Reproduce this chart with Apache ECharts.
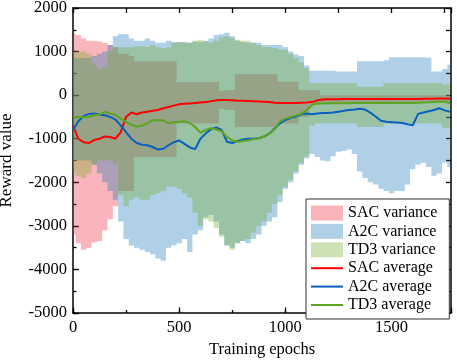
<!DOCTYPE html>
<html><head><meta charset="utf-8">
<script src="https://cdn.jsdelivr.net/npm/echarts@6/dist/echarts.min.js"></script>
<style>html,body{margin:0;padding:0;background:#fff}#c{width:457px;height:361px}</style>
</head><body><div id="c"></div>
<script>
const epochs = [0,25,50,75,100,125,150,175,200,225,250,275,
 300,325,350,375,400,425,450,475,500,525,550,575,
 600,625,650,675,700,725,750,775,800,825,850,875,
 900,925,950,975,1000,1025,1050,1075,1100,1125,1150,1175,
 1200,1225,1250,1275,1300,1325,1350,1375,1400,1425,1450,1475,
 1500,1525,1550,1575,1600,1625,1650,1675,1700,1725,1750,1775];

const sacMean = [-700,-1000,-1080,-1100,-1030,-1000,-950,-960,-1000,-850,-500,-400,
 -440,-400,-380,-360,-340,-300,-270,-240,-210,-200,-190,-180,
 -170,-160,-140,-120,-110,-110,-120,-130,-130,-135,-140,-145,
 -150,-160,-175,-180,-180,-180,-180,-175,-170,-160,-120,-100,
 -95,-92,-92,-90,-90,-90,-90,-90,-88,-88,-88,-88,
 -88,-88,-86,-86,-86,-86,-85,-85,-80,-75,-75,-80];

const a2cMean = [-800,-600,-480,-430,-420,-450,-460,-500,-560,-700,-850,-1000,
 -1100,-1140,-1150,-1190,-1250,-1230,-1150,-1080,-1040,-1120,-1200,-1240,
 -1000,-880,-780,-740,-800,-1070,-1100,-1050,-1020,-1000,-1000,-990,
 -950,-880,-760,-650,-570,-520,-490,-440,-420,-440,-420,-410,
 -410,-400,-380,-360,-340,-330,-310,-330,-400,-490,-590,-610,
 -620,-630,-640,-670,-690,-430,-400,-370,-340,-300,-350,-380];

const td3Mean = [-500,-500,-510,-500,-460,-450,-380,-420,-450,-540,-620,-680,
 -720,-700,-640,-580,-570,-580,-640,-620,-610,-600,-640,-730,
 -860,-800,-760,-790,-830,-960,-1040,-1070,-1050,-1040,-1010,-990,
 -950,-880,-780,-600,-540,-500,-470,-430,-340,-230,-185,-190,
 -185,-185,-185,-185,-185,-180,-180,-180,-180,-180,-175,-180,
 -180,-180,-180,-180,-180,-175,-170,-165,-155,-150,-150,-180];

const sacUpper = [1420,1380,1300,1250,1250,1230,1200,1150,1100,950,950,900,
 780,780,780,780,780,780,780,780,300,300,300,300,
 300,300,300,300,100,120,120,480,480,480,480,480,
 480,480,480,310,310,310,310,120,120,120,120,0,
 0,0,0,0,0,0,0,0,0,0,0,0,
 0,0,0,0,0,0,0,0,0,0,0,0];
const sacLower = [-3200,-3400,-3550,-3500,-3380,-3350,-3100,-2850,-2550,-2200,-2200,-2200,
 -1420,-1420,-1420,-1420,-1420,-1420,-1420,-1420,-650,-650,-650,-650,
 -650,-650,-650,-650,-320,-340,-340,-730,-730,-730,-730,-730,
 -730,-730,-730,-650,-650,-650,-650,-500,-500,-220,-220,-170,
 -170,-170,-170,-170,-170,-170,-170,-170,-170,-170,-170,-170,
 -170,-170,-170,-170,-170,-170,-170,-170,-170,-170,-170,-170];

const a2cUpper = [850,850,850,850,900,950,1000,1150,1350,1400,1400,1300,
 1250,1250,1300,1250,1200,1200,1250,1220,1220,1220,1200,1230,
 1220,1250,1300,1380,1400,1430,1350,1250,1220,1200,1200,1200,
 1150,1150,1150,1150,1100,1000,930,900,680,560,560,560,
 560,560,540,540,540,540,780,780,780,780,780,800,
 870,870,870,870,870,870,870,860,540,540,600,700];
const a2cLower = [-1500,-1500,-1500,-1500,-1600,-1800,-2000,-2200,-2400,-2900,-3300,-3450,
 -3500,-3550,-3600,-3650,-3750,-3800,-3500,-3450,-3400,-3300,-3600,-3200,
 -3100,-2800,-2750,-2900,-3200,-3450,-3500,-3400,-3350,-3400,-3300,-3200,
 -3000,-2900,-2800,-2450,-2150,-2000,-1800,-1600,-1450,-1350,-1420,-1500,
 -1520,-1400,-1300,-1280,-1250,-1350,-1750,-1900,-2000,-2050,-2150,-2200,
 -2250,-2200,-2200,-2050,-1700,-1600,-1550,-1650,-1850,-1800,-1550,-1650];

const td3Upper = [1000,1000,1000,950,700,600,650,1000,1100,1100,1100,1100,
 1120,1120,1100,1150,1100,1080,1100,1200,1220,1200,1200,1250,
 1270,1230,1200,1250,1330,1350,1300,1270,1250,1250,1200,1150,
 1100,1100,1080,1050,1040,950,850,750,620,280,280,280,
 280,280,280,280,280,280,190,190,190,190,190,280,
 280,280,280,280,280,280,280,280,280,280,250,250];
const td3Lower = [-1770,-1850,-1900,-1800,-1600,-1500,-1500,-1500,-1600,-2300,-2550,-2400,
 -2350,-2400,-2400,-2300,-2250,-2200,-2100,-2100,-2150,-2250,-2350,-2700,
 -3000,-2850,-2900,-3050,-3250,-3450,-3550,-3400,-3350,-3300,-3150,-3000,
 -2900,-2700,-2500,-2300,-2100,-1950,-1750,-1560,-1400,-700,-650,-650,
 -650,-650,-650,-650,-650,-650,-730,-730,-730,-730,-730,-650,
 -650,-650,-650,-650,-650,-650,-650,-650,-650,-650,-750,-750];

const FONT = '"Liberation Serif", "Times New Roman", serif';
const SAC_RGB = 'rgb(241,41,64)', SAC_RGBA = 'rgba(241,41,64,0.35)';
const A2C_RGB = 'rgb(26,121,184)', A2C_RGBA = 'rgba(26,121,184,0.35)';
const TD3_RGB = 'rgb(112,172,41)', TD3_RGBA = 'rgba(112,172,41,0.35)';

function pairs(ys){ return epochs.map((e,i)=>[e, ys[i]]); }

function band(name, upper, lower, rgb, rgba){
  const n = epochs.length;
  return {
    type:'custom', name:name, z:1, silent:true, color:rgba, itemStyle:{color:rgba},
    data: epochs.map((e,i)=>[e, lower[i], upper[i]]),
    encode:{x:0, y:[1,2]},
    renderItem:function(params, api){
      if (params.dataIndex !== 0) return null;
      const top = [], bot = [];
      for (let i=0;i<n;i++){
        const xl = i===0 ? epochs[0] : (epochs[i-1]+epochs[i])/2;
        const xr = i===n-1 ? epochs[n-1] : (epochs[i]+epochs[i+1])/2;
        top.push(api.coord([xl, upper[i]]), api.coord([xr, upper[i]]));
        bot.push(api.coord([xl, lower[i]]), api.coord([xr, lower[i]]));
      }
      const pts = top.concat(bot.reverse());
      return {type:'polygon', shape:{points:pts}, style:{fill:rgb, opacity:0.35}};
    }
  };
}
function avg(name, data, color){
  return {type:'line', name:name, data:pairs(data), symbol:'none', z:3, color:color,
    itemStyle:{color:color}, lineStyle:{color:color, width:2}, silent:true};
}

const black = '#000';
const lab = {fontFamily:FONT, fontSize:16.5, color:black};
const chart = echarts.init(document.getElementById('c'));
chart.setOption({
  animation:false,
  backgroundColor:'#fff',
  grid:{left:73, right:6, top:8, bottom:48, containLabel:false, outerBoundsMode:'none'},
  xAxis:[
    {type:'value', position:'bottom', min:0, max:1780, interval:250,
     axisLine:{show:true, onZero:false, lineStyle:{color:black, width:1.5}},
     axisTick:{show:true, inside:true, length:3, lineStyle:{color:black, width:1.3}},
     axisLabel:Object.assign({margin:6, formatter:v=> (v%500===0 ? String(v) : '')}, lab),
     splitLine:{show:false},
     name:'Training epochs', nameLocation:'middle', nameGap:27,
     nameTextStyle:{fontFamily:FONT, fontSize:16.5, color:black}},
    {type:'value', position:'bottom', min:0, max:1780, interval:500,
     axisLine:{show:false, onZero:false},
     axisTick:{show:true, inside:true, length:5.5, lineStyle:{color:black, width:1.3}},
     axisLabel:{show:false}, splitLine:{show:false}},
    {type:'value', position:'top', min:0, max:1780, interval:250,
     axisLine:{show:true, onZero:false, lineStyle:{color:black, width:1.5}},
     axisTick:{show:true, inside:true, length:5, lineStyle:{color:black, width:1.3}},
     axisLabel:{show:false}, splitLine:{show:false}}
  ],
  yAxis:[
    {type:'value', position:'left', min:-5000, max:2000, interval:500,
     axisLine:{show:true, onZero:false, lineStyle:{color:black, width:1.5}},
     axisTick:{show:true, inside:true, length:3.5, lineStyle:{color:black, width:1.3}},
     axisLabel:Object.assign({margin:6, formatter:v=> (v%1000===0 ? String(v) : '')}, lab),
     splitLine:{show:false},
     name:'Reward value', nameLocation:'middle', nameGap:58, nameRotate:90,
     nameTextStyle:{fontFamily:FONT, fontSize:17, color:black}},
    {type:'value', position:'left', min:-5000, max:2000, interval:1000,
     axisLine:{show:false, onZero:false},
     axisTick:{show:true, inside:true, length:6, lineStyle:{color:black, width:1.3}},
     axisLabel:{show:false}, splitLine:{show:false}},
    {type:'value', position:'right', min:-5000, max:2000, interval:500,
     axisLine:{show:true, onZero:false, lineStyle:{color:black, width:1.5}},
     axisTick:{show:true, inside:true, length:5, lineStyle:{color:black, width:1.3}},
     axisLabel:{show:false}, splitLine:{show:false}}
  ],
  legend:{
    left:306, top:199, orient:'vertical', itemWidth:32, itemHeight:15, itemGap:2.4,
    padding:[6,12,6,5], borderColor:'#333', borderWidth:1, backgroundColor:'#fff',
    itemStyle:{borderWidth:0}, selectedMode:false,
    textStyle:{fontFamily:FONT, fontSize:16, color:black, lineHeight:15},
    data:[
      {name:'SAC variance', icon:'rect', itemStyle:{color:SAC_RGBA, borderWidth:0}},
      {name:'A2C variance', icon:'rect', itemStyle:{color:A2C_RGBA, borderWidth:0}},
      {name:'TD3 variance', icon:'rect', itemStyle:{color:TD3_RGBA, borderWidth:0}},
      {name:'SAC average', icon:'path://M0,0H32V2H0Z', itemStyle:{color:'#ff0000', borderWidth:0}},
      {name:'A2C average', icon:'path://M0,0H32V2H0Z', itemStyle:{color:'#0a5fbf', borderWidth:0}},
      {name:'TD3 average', icon:'path://M0,0H32V2H0Z', itemStyle:{color:'#5ea51f', borderWidth:0}}
    ]
  },
  series:[
    band('SAC variance', sacUpper, sacLower, SAC_RGB, SAC_RGBA),
    band('A2C variance', a2cUpper, a2cLower, A2C_RGB, A2C_RGBA),
    band('TD3 variance', td3Upper, td3Lower, TD3_RGB, TD3_RGBA),
    avg('SAC average', sacMean, '#ff0000'),
    avg('A2C average', a2cMean, '#0a5fbf'),
    avg('TD3 average', td3Mean, '#5ea51f')
  ]
});
</script></body></html>
